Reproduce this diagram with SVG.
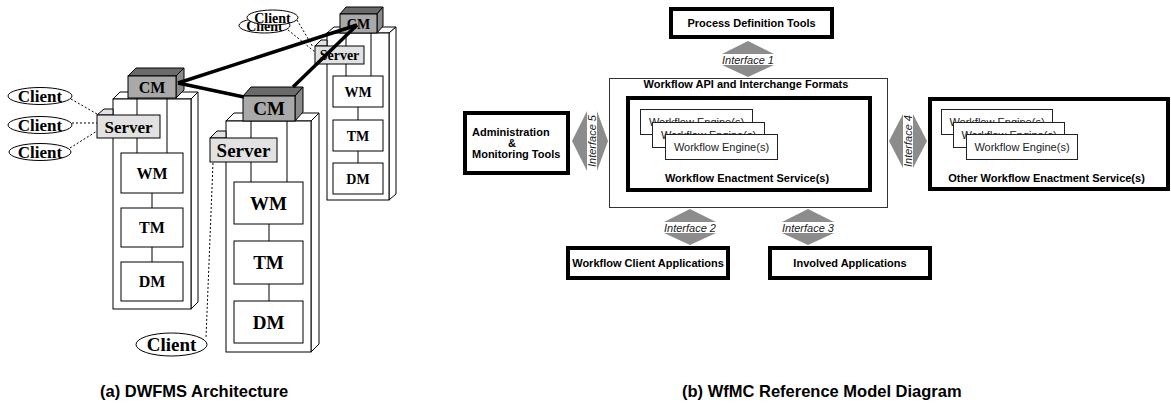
<svg xmlns="http://www.w3.org/2000/svg" width="1171" height="407" viewBox="0 0 1171 407">
<style>
.t{font-family:"Liberation Serif","Times New Roman",serif;font-weight:bold;text-anchor:middle;fill:#000}
.a{font-family:"Liberation Sans",Arial,sans-serif;font-weight:bold;font-size:11px;text-anchor:middle;fill:#000}
.r{font-family:"Liberation Sans",Arial,sans-serif;font-size:11px;text-anchor:middle;fill:#222}
.i{font-family:"Liberation Sans",Arial,sans-serif;font-style:italic;font-size:11px;text-anchor:middle;fill:#222}
.cap{font-family:"Liberation Sans",Arial,sans-serif;font-weight:bold;font-size:16.5px;fill:#000}
.w{fill:#fff;stroke:#000;stroke-width:1}
.cf{fill:#a9a9a9;stroke:#000;stroke-width:1}
.ct{fill:#6a6a6a;stroke:#000;stroke-width:1}
.cs{fill:#8a8a8a;stroke:#000;stroke-width:1}
.sv{fill:#e2e2e2;stroke:#000;stroke-width:1}
.ln{stroke:#000;stroke-width:1;fill:none}
.dot{stroke:#000;stroke-width:1;stroke-dasharray:2 2;fill:none}
.link{stroke:#000;stroke-width:3.5;fill:none}
.thick{fill:#fff;stroke:#000;stroke-width:4}
.thin{fill:#fff;stroke:#333;stroke-width:1}
.eng{fill:#fff;stroke:#222;stroke-width:1}
.dia{fill:#8c8c8c;stroke:none}
</style>
<rect width="1171" height="407" fill="#fff"/>

<!-- (a) DWFMS Architecture -->
<g id="towerC">
  <polygon class="w" points="327,33 334,27 396,27 389,33"/>
  <polygon class="w" points="389,33 396,27 396,194 389,200"/>
  <rect class="w" x="327" y="33" width="62" height="167"/>
  <line class="ln" x1="346" y1="33" x2="346" y2="46"/>
  <line class="ln" x1="346" y1="64" x2="346" y2="76"/>
  <line class="ln" x1="371" y1="33" x2="371" y2="76"/>
  <line class="ln" x1="358" y1="107" x2="358" y2="120"/>
  <line class="ln" x1="358" y1="151" x2="358" y2="163"/>
  <g id="cmC">
    <polygon class="ct" points="340,14 346,7 383,7 377,14"/>
    <polygon class="cs" points="377,14 383,7 383,26 377,33"/>
    <rect class="cf" x="340" y="14" width="37" height="19"/>
    <text class="t" x="358.5" y="28.5" font-size="14">CM</text>
  </g>
  <g id="serverC">
    <polygon class="sv" points="315,46 321,40 327,40 327,46"/>
    <rect class="sv" x="315" y="46" width="49" height="18"/>
    <text class="t" x="339.5" y="60" font-size="14">Server</text>
  </g>
  <g id="wmC"><rect class="w" x="333" y="76" width="50" height="31"/><text class="t" x="358" y="96.5" font-size="14">WM</text></g>
  <g id="tmC"><rect class="w" x="333" y="120" width="50" height="31"/><text class="t" x="358" y="140.5" font-size="14">TM</text></g>
  <g id="dmC"><rect class="w" x="333" y="163" width="50" height="31"/><text class="t" x="358" y="183.5" font-size="14">DM</text></g>
</g>

<g id="towerA">
  <polygon class="w" points="113,99 120,92 198,92 191,99"/>
  <polygon class="w" points="191,99 198,92 198,302 191,309"/>
  <rect class="w" x="113" y="99" width="78" height="210"/>
  <line class="ln" x1="137" y1="98" x2="137" y2="115"/>
  <line class="ln" x1="137" y1="138" x2="137" y2="153"/>
  <line class="ln" x1="167" y1="98" x2="167" y2="153"/>
  <line class="ln" x1="152" y1="193" x2="152" y2="208"/>
  <line class="ln" x1="152" y1="247" x2="152" y2="262"/>
  <g id="cmA">
    <polygon class="ct" points="128,76 136,68 184,68 176,76"/>
    <polygon class="cs" points="176,76 184,68 184,90 176,98"/>
    <rect class="cf" x="128" y="76" width="48" height="22"/>
    <text class="t" x="152" y="93" font-size="16">CM</text>
  </g>
  <g id="serverA">
    <polygon class="sv" points="97,115 104,109 113,109 113,115"/>
    <rect class="sv" x="97" y="115" width="63" height="23"/>
    <text class="t" x="128.5" y="132.5" font-size="17">Server</text>
  </g>
  <g id="wmA"><rect class="w" x="121" y="153" width="62" height="40"/><text class="t" x="152" y="179" font-size="16">WM</text></g>
  <g id="tmA"><rect class="w" x="121" y="208" width="62" height="39"/><text class="t" x="152" y="233" font-size="16">TM</text></g>
  <g id="dmA"><rect class="w" x="121" y="262" width="62" height="39"/><text class="t" x="152" y="287" font-size="16">DM</text></g>
</g>

<g id="towerB">
  <polygon class="w" points="226,121 234,113 319,113 311,121"/>
  <polygon class="w" points="311,121 319,113 319,344 311,352"/>
  <rect class="w" x="226" y="121" width="85" height="231"/>
  <line class="ln" x1="251" y1="121" x2="251" y2="138"/>
  <line class="ln" x1="251" y1="162" x2="251" y2="182"/>
  <line class="ln" x1="287" y1="121" x2="287" y2="182"/>
  <line class="ln" x1="269" y1="224" x2="269" y2="241"/>
  <line class="ln" x1="269" y1="284" x2="269" y2="301"/>
  <g id="cmB">
    <polygon class="ct" points="243,96 251,87 303,87 295,96"/>
    <polygon class="cs" points="295,96 303,87 303,112 295,121"/>
    <rect class="cf" x="243" y="96" width="52" height="25"/>
    <text class="t" x="269" y="115" font-size="19">CM</text>
  </g>
  <g id="serverB">
    <polygon class="sv" points="210,138 217,131 226,131 226,138"/>
    <rect class="sv" x="210" y="138" width="67" height="24"/>
    <text class="t" x="243.5" y="157" font-size="19">Server</text>
  </g>
  <g id="wmB"><rect class="w" x="234" y="182" width="69" height="42"/><text class="t" x="268.5" y="209.5" font-size="19">WM</text></g>
  <g id="tmB"><rect class="w" x="234" y="241" width="69" height="43"/><text class="t" x="268.5" y="269" font-size="19">TM</text></g>
  <g id="dmB"><rect class="w" x="234" y="301" width="69" height="42"/><text class="t" x="268.5" y="328.5" font-size="19">DM</text></g>
</g>

<g id="clients">
  <g id="client1"><ellipse class="w" cx="40" cy="96" rx="32" ry="8.5"/><text class="t" x="40" y="102" font-size="17">Client</text></g>
  <g id="client2"><ellipse class="w" cx="40" cy="125" rx="32" ry="8.5"/><text class="t" x="40" y="131" font-size="17">Client</text></g>
  <g id="client3"><ellipse class="w" cx="40" cy="152" rx="31" ry="8.5"/><text class="t" x="40" y="158" font-size="17">Client</text></g>
  <g id="client4"><ellipse class="w" cx="171.5" cy="344.5" rx="35.5" ry="11.5"/><text class="t" x="171.5" y="351" font-size="19">Client</text></g>
  <g id="client5"><ellipse class="w" cx="264.5" cy="25.5" rx="25.5" ry="7.5"/><text class="t" x="264.5" y="30.5" font-size="14">Client</text></g>
  <g id="client6"><ellipse class="w" cx="272.5" cy="17.5" rx="25.5" ry="7.5"/><text class="t" x="272.5" y="22.5" font-size="14">Client</text></g>
</g>

<g id="connectors-a">
  <line class="dot" x1="71" y1="99" x2="97" y2="114"/>
  <line class="dot" x1="72" y1="123" x2="97" y2="123"/>
  <line class="dot" x1="70" y1="148" x2="97" y2="131"/>
  <line class="dot" x1="213" y1="163" x2="206" y2="338"/>
  <line class="dot" x1="297" y1="20" x2="313" y2="47"/>
  <line class="dot" x1="288" y1="30" x2="315" y2="52"/>
  <line class="link" x1="178" y1="83" x2="357" y2="25"/>
  <line class="link" x1="178" y1="83" x2="244" y2="97"/>
  <line class="link" x1="293" y1="87" x2="357" y2="25"/>
</g>

<text class="cap" x="100" y="397">(a) DWFMS Architecture</text>

<!-- (b) WfMC Reference Model -->
<g id="pdt">
  <rect class="thick" x="671" y="9" width="161" height="28"/>
  <text class="a" x="751.5" y="27">Process Definition Tools</text>
</g>
<g id="api">
  <rect class="thin" x="609.5" y="78.5" width="278" height="129"/>
  <text class="a" x="746" y="88">Workflow API and Interchange Formats</text>
</g>
<g id="wes">
  <rect class="thick" x="628" y="98" width="242" height="92"/>
  <rect class="eng" x="640.5" y="109.5" width="112" height="25"/>
  <text class="r" x="696.5" y="126">Workflow Engine(s)</text>
  <rect class="eng" x="652.5" y="122.5" width="112" height="25"/>
  <text class="r" x="708.5" y="139">Workflow Engine(s)</text>
  <rect class="eng" x="665.5" y="134.5" width="112" height="25"/>
  <text class="r" x="721.5" y="151">Workflow Engine(s)</text>
  <text class="a" x="747" y="182">Workflow Enactment Service(s)</text>
</g>
<g id="admin">
  <rect class="thick" x="465" y="113" width="103" height="60"/>
  <text class="a" x="472" y="136" style="text-anchor:start">Administration</text>
  <text class="a" x="512" y="147">&amp;</text>
  <text class="a" x="472" y="157.5" style="text-anchor:start">Monitoring Tools</text>
</g>
<g id="other">
  <rect class="thick" x="930" y="99" width="238" height="90"/>
  <rect class="eng" x="941.5" y="109.5" width="111" height="25"/>
  <text class="r" x="997" y="126">Workflow Engine(s)</text>
  <rect class="eng" x="953.5" y="122.5" width="111" height="25"/>
  <text class="r" x="1009" y="139">Workflow Engine(s)</text>
  <rect class="eng" x="966.5" y="134.5" width="111" height="25"/>
  <text class="r" x="1022" y="151">Workflow Engine(s)</text>
  <text class="a" x="1046.5" y="182">Other Workflow Enactment Service(s)</text>
</g>
<g id="wca">
  <rect class="thick" x="568" y="248" width="160" height="30"/>
  <text class="a" x="648" y="267">Workflow Client Applications</text>
</g>
<g id="inv">
  <rect class="thick" x="770" y="248" width="160" height="30"/>
  <text class="a" x="850" y="267">Involved Applications</text>
</g>

<g id="interfaces">
  <g id="if1">
    <polygon class="dia" points="748,41 774,54 722,54"/>
    <polygon class="dia" points="722,65 774,65 748,77"/>
    <text class="i" x="748" y="63.5">Interface 1</text>
  </g>
  <g id="if2">
    <polygon class="dia" points="690,209 716,222 664,222"/>
    <polygon class="dia" points="664,233 716,233 690,245"/>
    <text class="i" x="690" y="231.5">Interface 2</text>
  </g>
  <g id="if3">
    <polygon class="dia" points="808,209 834,222 782,222"/>
    <polygon class="dia" points="782,233 834,233 808,245"/>
    <text class="i" x="808" y="231.5">Interface 3</text>
  </g>
  <g id="if5">
    <polygon class="dia" points="572,141 587,111 587,171"/>
    <polygon class="dia" points="597,111 608,141 597,171"/>
    <text class="i" transform="translate(592,141) rotate(-90)" x="0" y="4">Interface 5</text>
  </g>
  <g id="if4">
    <polygon class="dia" points="889,141 903,114 903,168"/>
    <polygon class="dia" points="913,114 927,141 913,168"/>
    <text class="i" transform="translate(908,141) rotate(-90)" x="0" y="4">Interface 4</text>
  </g>
</g>

<text class="cap" x="682" y="397">(b) WfMC Reference Model Diagram</text>
</svg>
